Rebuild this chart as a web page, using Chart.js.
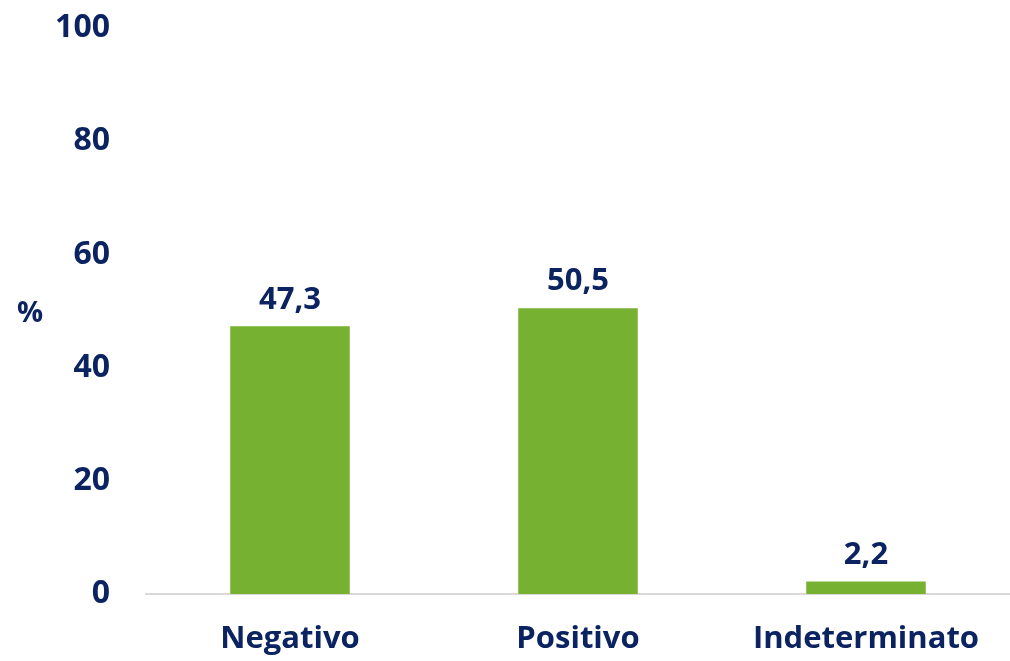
<html lang="it">
<head>
    <meta charset="UTF-8">
    <title>Esito</title>
    <script src="https://cdn.jsdelivr.net/npm/chart.js@4"></script>
    <style>
        html, body { margin: 0; padding: 0; background: #fff; }
        #wrap { width: 1010px; height: 661px; }
    </style>
</head>
<body>
<div id="wrap"><canvas id="graph" width="1010" height="661"></canvas></div>
<script>
    const categories = ['Negativo', 'Positivo', 'Indeterminato'];
    const values = [47.3, 50.5, 2.2];
    const yTicks = [0, 20, 40, 60, 80, 100];

    const navy = '#0B2461';
    const green = '#77B131';
    const font = '"Open Sans", "Liberation Sans", sans-serif';

    // value labels above bars + the "%" unit on the left
    const labelPlugin = {
        id: 'labels',
        afterDatasetsDraw(chart) {
            const ctx = chart.ctx;
            ctx.save();
            ctx.fillStyle = navy;
            ctx.font = 'bold 31px ' + font;
            ctx.textAlign = 'center';
            ctx.textBaseline = 'bottom';
            chart.getDatasetMeta(0).data.forEach((bar, i) => {
                ctx.fillText(values[i].toFixed(1).replace('.', ','), bar.x, bar.y - 11);
            });
            const a = chart.chartArea;
            ctx.font = 'bold 29px ' + font;
            ctx.textBaseline = 'middle';
            ctx.fillText('%', 30, (a.top + a.bottom) / 2 + 3);
            ctx.restore();
        }
    };

    new Chart(document.getElementById('graph').getContext('2d'), {
        type: 'bar',
        data: {
            labels: categories,
            datasets: [{
                data: values,
                backgroundColor: green,
                barPercentage: 0.5,
                categoryPercentage: 0.83
            }]
        },
        options: {
            responsive: false,
            animation: false,
            layout: { padding: 0 },
            plugins: { legend: { display: false }, tooltip: { enabled: false } },
            scales: {
                x: {
                    afterFit(s) { s.height = 67; },
                    grid: { display: false, drawTicks: false },
                    border: { display: true, color: '#D9D9D9', width: 2 },
                    ticks: { color: navy, padding: 27, font: { family: font, size: 31, weight: 'bold' } }
                },
                y: {
                    min: 0,
                    max: 100,
                    afterFit(s) { s.width = 146; s.paddingTop = 28; s.paddingBottom = 0; },
                    afterBuildTicks(s) { s.ticks = yTicks.map(v => ({ value: v })); },
                    grid: { display: false, drawTicks: false },
                    border: { display: false },
                    ticks: { color: navy, padding: 36, font: { family: font, size: 32, weight: 'bold' } }
                }
            }
        },
        plugins: [labelPlugin]
    });
</script>
</body>
</html>
